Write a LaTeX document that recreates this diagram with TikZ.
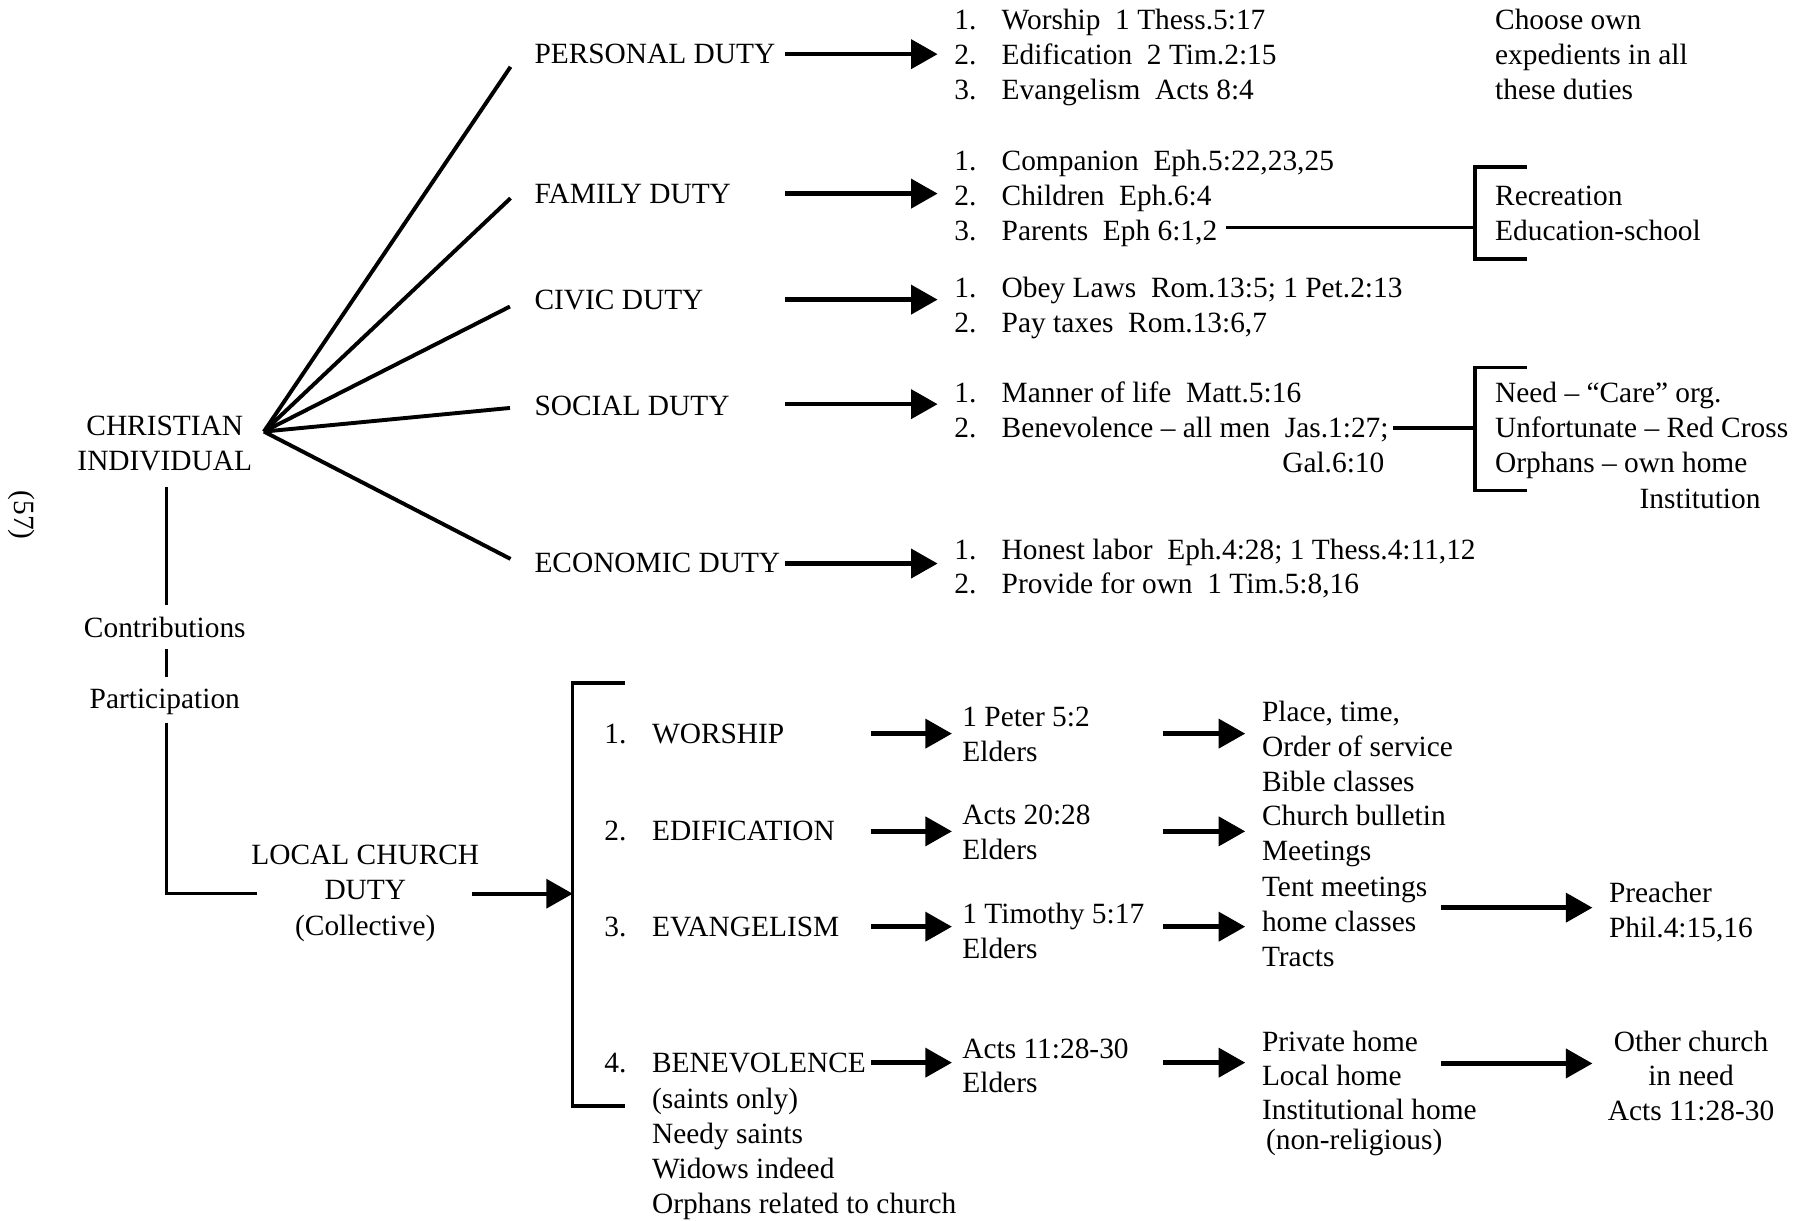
\documentclass[tikz,border=0pt]{standalone}
\usepackage{fontspec}
\setmainfont{Liberation Serif}
\usetikzlibrary{arrows.meta}
\newcommand{\dfs}{\fontsize{12.75pt}{15.25pt}\selectfont}
\begin{document}
\begin{tikzpicture}[x=0.5pt,y=-0.5pt,
  txt/.style={anchor=base west, inner sep=0pt, font=\dfs},
  ctxt/.style={anchor=base, inner sep=0pt, font=\dfs},
  rtxt/.style={anchor=base east, inner sep=0pt, font=\dfs},
  ln/.style={line width=1.4pt},
  fan/.style={line width=1.7pt},
  brk/.style={line width=1.5pt},
  thin/.style={line width=1.25pt},
  arr/.style={line width=1.9pt, -{Triangle[length=11.5pt,width=12.5pt]}},
]
\useasboundingbox (0,0) rectangle (1568,1059);

% ---------- left column ----------
\node[font=\dfs, inner sep=0pt, rotate=-90] (pg) at (19,447) {(57)};
\node[ctxt] (ci1) at (143,378) {CHRISTIAN};
\node[ctxt] (ci2) at (143,408) {INDIVIDUAL};
\coordinate (hub) at (229,374.5);

% ---------- duties ----------
\node[txt] (dp) at (463.4,55) {PERSONAL DUTY};
\node[txt] (df) at (463.4,177) {FAMILY DUTY};
\node[txt] (dc) at (463.4,268.7) {CIVIC DUTY};
\node[txt] (ds) at (463.4,360.6) {SOCIAL DUTY};
\node[txt] (de) at (463.4,496.8) {ECONOMIC DUTY};

\coordinate (e1) at (443,58);
\coordinate (e2) at (443,172);
\coordinate (e3) at (442.5,266);
\coordinate (e4) at (442.5,354);
\coordinate (e5) at (443,485);
\foreach \e in {e1,e2,e3,e4,e5} \draw[fan] (hub) -- (\e);

\coordinate (ap0) at (681.5,47);    \coordinate (ap1) at (813.6,47);
\coordinate (af0) at (681.5,168);   \coordinate (af1) at (813.6,168);
\coordinate (ac0) at (681.5,260);   \coordinate (ac1) at (813.6,260);
\coordinate (as0) at (681.5,350.7); \coordinate (as1) at (813.6,350.7);
\coordinate (ae0) at (681.5,489);   \coordinate (ae1) at (813.6,489);
\draw[arr] (ap0) -- (ap1);
\draw[arr] (af0) -- (af1);
\draw[arr] (ac0) -- (ac1);
\draw[arr] (as0) -- (as1);
\draw[arr] (ae0) -- (ae1);

% personal list
\node[txt] (pn1) at (827.7,25.2) {1.};
\node[txt] (pn2) at (827.7,56) {2.};
\node[txt] (pn3) at (827.7,86.2) {3.};
\node[txt] (pt1) at (868.8,25.2) {Worship~~1 Thess.5:17};
\node[txt] (pt2) at (868.8,56) {Edification~~2 Tim.2:15};
\node[txt] (pt3) at (868.8,86.2) {Evangelism~~Acts 8:4};
\node[txt] (ch1) at (1297,25.2) {Choose own};
\node[txt] (ch2) at (1297,56) {expedients in all};
\node[txt] (ch3) at (1297,86.2) {these duties};

% family list
\node[txt] (fn1) at (827.7,147.6) {1.};
\node[txt] (fn2) at (827.7,178.6) {2.};
\node[txt] (fn3) at (827.7,208.8) {3.};
\node[txt] (ft1) at (868.8,147.6) {Companion~~Eph.5:22,23,25};
\node[txt] (ft2) at (868.8,178.6) {Children~~Eph.6:4};
\node[txt] (ft3) at (868.8,208.8) {Parents~~Eph 6:1,2};
\node[txt] (fr1) at (1297,178.6) {Recreation};
\node[txt] (fr2) at (1297,208.8) {Education-school};
\coordinate (fl0) at (1063.6,197.3);
\coordinate (fl1) at (1280,197.3);
\draw[ln] (fl0) -- (fl1);
\coordinate (fb0) at (1324.6,144.8);
\coordinate (fb1) at (1280,144.8);
\coordinate (fb2) at (1280,224.8);
\coordinate (fb3) at (1324.6,224.8);
\draw[brk] (fb0) -- (fb1) -- (fb2) -- (fb3);

% civic list
\node[txt] (cn1) at (827.7,258.5) {1.};
\node[txt] (cn2) at (827.7,288.7) {2.};
\node[txt] (ct1) at (868.8,258.5) {Obey Laws~~Rom.13:5; 1 Pet.2:13};
\node[txt] (ct2) at (868.8,288.7) {Pay taxes~~Rom.13:6,7};

% social list
\node[txt] (sn1) at (827.7,349.4) {1.};
\node[txt] (sn2) at (827.7,379.4) {2.};
\node[txt] (st1) at (868.8,349.4) {Manner of life~~Matt.5:16};
\node[txt] (st2) at (868.8,379.4) {Benevolence -- all men~~Jas.1:27;};
\node[rtxt] (st3) at (1201.6,410.2) {Gal.6:10};
\node[txt] (sr1) at (1297,349.4) {Need -- “Care” org.};
\node[txt] (sr2) at (1297,379.4) {Unfortunate -- Red Cross};
\node[txt] (sr3) at (1297,410.2) {Orphans -- own home};
\node[txt] (sr4) at (1422.4,441) {Institution};
\coordinate (sl0) at (1208.7,371.4);
\coordinate (sl1) at (1280,371.4);
\draw[ln] (sl0) -- (sl1);
\coordinate (sb0) at (1324.6,319);
\coordinate (sb1) at (1280,319);
\coordinate (sb2) at (1280,425.5);
\coordinate (sb3) at (1324.6,425.5);
\draw[brk] (sb0) -- (sb1) -- (sb2) -- (sb3);

% economic list
\node[txt] (en1) at (827.7,485.2) {1.};
\node[txt] (en2) at (827.7,515.4) {2.};
\node[txt] (et1) at (868.8,485.2) {Honest labor~~Eph.4:28; 1 Thess.4:11,12};
\node[txt] (et2) at (868.8,515.4) {Provide for own~~1 Tim.5:8,16};

% ---------- contributions / participation ----------
\node[ctxt] (contr) at (143,553.4) {Contributions};
\node[ctxt] (partic) at (143,614.4) {Participation};
\coordinate (v1a) at (144.5,423);   \coordinate (v1b) at (144.5,525);
\coordinate (v2a) at (144.5,563.5); \coordinate (v2b) at (144.5,587.5);
\coordinate (v3a) at (144.5,627);   \coordinate (v3b) at (144.5,775.5);
\coordinate (v3c) at (223,775.5);
\draw[thin] (v1a) -- (v1b);
\draw[thin] (v2a) -- (v2b);
\draw[brk] (v3a) -- (v3b) -- (v3c);

\node[ctxt] (lc1) at (317,750) {LOCAL CHURCH};
\node[ctxt] (lc2) at (317,780.7) {DUTY};
\node[ctxt] (lc3) at (317,811.6) {(Collective)};
\coordinate (la0) at (409.5,775.5);
\coordinate (la1) at (497,775.5);
\draw[arr] (la0) -- (la1);
\coordinate (lb0) at (542,592.7);
\coordinate (lb1) at (497,592.7);
\coordinate (lb2) at (497,959.8);
\coordinate (lb3) at (542,959.8);
\draw[brk] (lb0) -- (lb1) -- (lb2) -- (lb3);

% church duties
\node[txt] (cn1a) at (524,645) {1.};
\node[txt] (cn2a) at (524,729) {2.};
\node[txt] (cn3a) at (524,813) {3.};
\node[txt] (cn4a) at (524,930.6) {4.};
\node[txt] (cw) at (565.4,645) {WORSHIP};
\node[txt] (ced) at (565.4,729) {EDIFICATION};
\node[txt] (cev) at (565.4,813) {EVANGELISM};
\node[txt] (cb) at (565.4,930.6) {BENEVOLENCE};
\node[txt] (cb2) at (565.4,961.5) {(saints only)};
\node[txt] (cb3) at (565.4,992.4) {Needy saints};
\node[txt] (cb4) at (565.4,1023) {Widows indeed};
\node[txt] (cb5) at (565.4,1053.3) {Orphans related to church};

\coordinate (wa0) at (756,636.6);  \coordinate (wa1) at (826,636.6);
\coordinate (ea0) at (756,721.4);  \coordinate (ea1) at (826,721.4);
\coordinate (va0) at (756,804.1);  \coordinate (va1) at (826,804.1);
\coordinate (ba0) at (756,922.1);  \coordinate (ba1) at (826,922.1);
\draw[arr] (wa0) -- (wa1);
\draw[arr] (ea0) -- (ea1);
\draw[arr] (va0) -- (va1);
\draw[arr] (ba0) -- (ba1);

\node[txt] (el1) at (834.7,630.5) {1 Peter 5:2};
\node[txt] (el2) at (834.7,660.6) {Elders};
\node[txt] (el3) at (834.7,715.1) {Acts 20:28};
\node[txt] (el4) at (834.7,745.5) {Elders};
\node[txt] (el5) at (834.7,801.5) {1 Timothy 5:17};
\node[txt] (el6) at (834.7,831.3) {Elders};
\node[txt] (el7) at (834.7,918.1) {Acts 11:28-30};
\node[txt] (el8) at (834.7,948) {Elders};

\coordinate (wb0) at (1009.4,636.6);  \coordinate (wb1) at (1080.5,636.6);
\coordinate (eb0) at (1009.4,721.4);  \coordinate (eb1) at (1080.5,721.4);
\coordinate (vb0) at (1009.4,804.1);  \coordinate (vb1) at (1080.5,804.1);
\coordinate (bb0) at (1009.4,922.1);  \coordinate (bb1) at (1080.5,922.1);
\draw[arr] (wb0) -- (wb1);
\draw[arr] (eb0) -- (eb1);
\draw[arr] (vb0) -- (vb1);
\draw[arr] (bb0) -- (bb1);

\node[txt] (x1) at (1094.7,626.4) {Place, time,};
\node[txt] (x2) at (1094.7,656.3) {Order of service};
\node[txt] (x3) at (1094.7,686.4) {Bible classes};
\node[txt] (x4) at (1094.7,716.6) {Church bulletin};
\node[txt] (x5) at (1094.7,747) {Meetings};
\node[txt] (x6) at (1094.7,777.7) {Tent meetings};
\node[txt] (x7) at (1094.7,807.9) {home classes};
\node[txt] (x8) at (1094.7,838.7) {Tracts};
\node[txt] (x9) at (1094.7,912) {Private home};
\node[txt] (x10) at (1094.7,942.2) {Local home};
\node[txt] (x11) at (1094.7,971.6) {Institutional home};
\node[txt] (x12) at (1098.2,997.5) {(non-religious)};

\coordinate (pc0) at (1250.3,787.6);  \coordinate (pc1) at (1381.8,787.6);
\coordinate (oc0) at (1250.3,922.8);  \coordinate (oc1) at (1381.8,922.8);
\draw[arr] (pc0) -- (pc1);
\draw[arr] (oc0) -- (oc1);

\node[txt] (pr1) at (1395.8,783.3) {Preacher};
\node[txt] (pr2) at (1395.8,813.3) {Phil.4:15,16};
\node[ctxt] (oc1t) at (1467.4,912) {Other church};
\node[ctxt] (oc2t) at (1467.4,942) {in need};
\node[ctxt] (oc3t) at (1467.4,972.3) {Acts 11:28-30};
\end{tikzpicture}
\end{document}
